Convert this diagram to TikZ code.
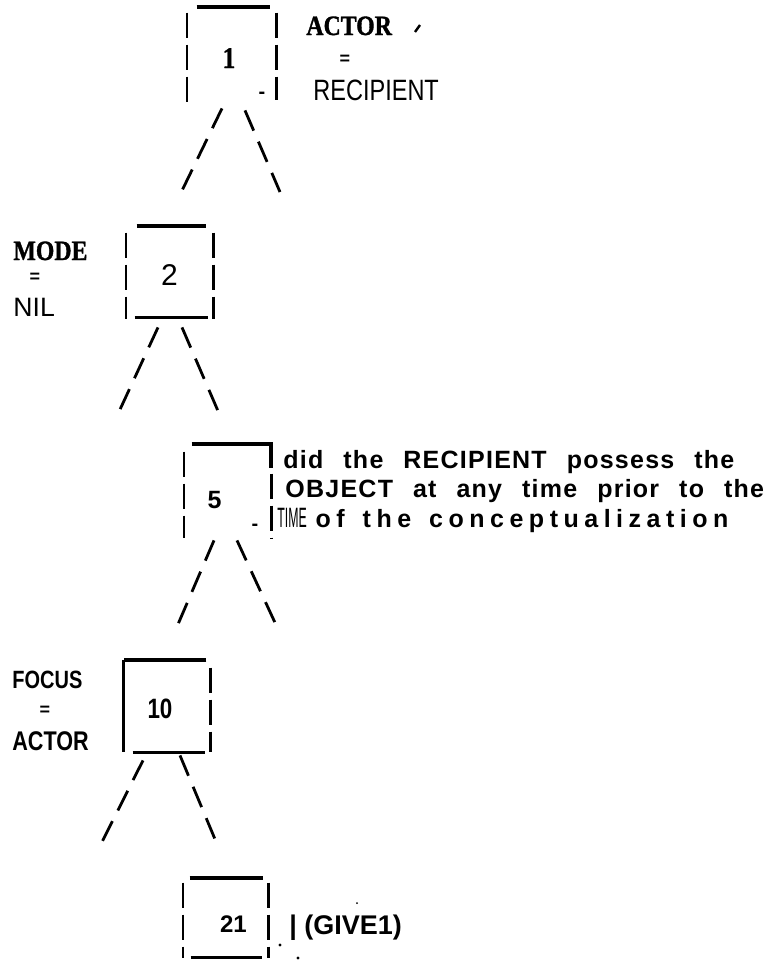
\documentclass[tikz,border=0pt]{standalone}
\usepackage{fontspec}
\setmainfont{Liberation Sans}
\newfontfamily\lpsans[FakeStretch=0.8]{Liberation Sans}
\newfontfamily\lpserif[FakeStretch=0.85,FakeBold=1.2]{Liberation Serif Bold}
\usetikzlibrary{positioning}
\tikzset{
  cell/.style={inner sep=0pt, minimum width=43.5pt, minimum height=47pt},
  num/.style={anchor=base, inner sep=0pt},
  lbl/.style={anchor=base west, inner sep=0pt},
  eqsign/.style={inner sep=0pt, font=\bfseries\fontsize{9}{9}\selectfont},
  hyph/.style={inner sep=0pt, font=\bfseries\fontsize{10}{10}\selectfont},
  sent/.style={anchor=base west, inner sep=0pt,
    font={\bfseries\fontsize{12.5}{14}\selectfont\addfontfeatures{LetterSpace=5}\spaceskip=10pt\relax}},
  topbar/.style={line width=2pt},
  footbar/.style={line width=1.5pt},
  sideline/.style={line width=1.1pt, dash pattern=on 12.5pt off 3.5pt},
  twig/.style={line width=1.4pt, dash pattern=on 11pt off 6pt},
  speck/.style={line width=1.2pt}
}

\begin{document}
\begin{tikzpicture}[x=0.5pt,y=-0.5pt]
      \useasboundingbox (0,0) rectangle (771,969);
      % the five boxes
      \node[cell, minimum width=44.5pt, minimum height=48pt] (b1) at (231.5,55) {};
      \node[cell, minimum height=46.5pt] (b2) at (169.5,272.5) {};
      \node[cell] (b5) at (227.5,491) {};
      \node[cell, minimum width=43pt, minimum height=46pt] (b10) at (167,706) {};
      \node[cell, minimum width=42.5pt, minimum height=40pt] (b21) at (225.5,918) {};
      \node[num, font=\lpserif\fontsize{15}{16}\selectfont] (n1) at (229,68) {1};
      \node[num, font=\fontsize{15}{17}\selectfont] (n2) at (169.5,285) {2};
      \node[num, font=\bfseries\fontsize{12.5}{15}\selectfont] (n5) at (214.5,508) {5};
      \node[num, font=\lpsans\bfseries\fontsize{14}{16}\selectfont] (n10) at (160,718) {10};
      \node[num, font=\bfseries\fontsize{12}{14}\selectfont] (n21) at (233.5,932) {21};
      \draw[topbar] ([xshift=5pt]b1.north west) -- ([xshift=-3pt]b1.north east);
      \draw[sideline] ([yshift=-3pt]b1.north west) -- (b1.south west);
      \draw[sideline] ([yshift=-3pt]b1.north east) -- ([yshift=1.5pt]b1.south east);
      \node[hyph] (h1) at (262,95) {-};
      \draw[topbar] ([xshift=5.5pt]b2.north west) -- ([xshift=-3.5pt]b2.north east);
      \draw[sideline] ([yshift=-3.5pt]b2.north west) -- (b2.south west);
      \draw[sideline] ([yshift=-3.5pt]b2.north east) -- (b2.south east);
      \draw[footbar] ([xshift=4.5pt,yshift=1pt]b2.south west) -- ([xshift=-2.5pt,yshift=1pt]b2.south east);
      \draw[topbar] ([xshift=4pt]b5.north west) -- (b5.north east) -- ([yshift=-12pt]b5.north east);
      \draw[sideline] ([yshift=-15pt]b5.north east) -- (b5.south east);
      \draw[sideline] ([yshift=-4pt]b5.north west) -- (b5.south west);
      \node[hyph] (h5) at (255,527) {-};
      \draw[topbar] ([xshift=-2pt]b10.north east) -- (b10.north west);
      \draw[line width=1.3pt] (b10.north west) -- (b10.south west);
      \draw[sideline] ([yshift=-4pt]b10.north east) -- (b10.south east);
      \draw[footbar] ([xshift=4.5pt]b10.south west) -- ([xshift=-2.5pt]b10.south east);
      \draw[topbar] ([xshift=3.5pt]b21.north west) -- ([xshift=-2.5pt]b21.north east);
      \draw[sideline] ([yshift=-2.5pt]b21.north west) -- (b21.south west);
      \draw[sideline] ([yshift=-2.5pt]b21.north east) -- (b21.south east);
      \draw[footbar] ([xshift=4pt,yshift=0.5pt]b21.south west) -- ([xshift=-3pt,yshift=0.5pt]b21.south east);
      % branches
      \coordinate (r1) at (280,192);
      \coordinate (l2) at (117,416);
      \coordinate (r5) at (277,627);
      \coordinate (l10) at (102,842);
      \draw[twig] ([xshift=-4.75pt,yshift=-2.5pt]b1.south) -- ([xshift=6.25pt,yshift=17.5pt]b2.north);
      \draw[twig] ([xshift=6.75pt,yshift=-3.5pt]b1.south) -- (r1);
      \draw[twig] ([xshift=-5.75pt,yshift=-4pt]b2.south) -- (l2);
      \draw[twig] ([xshift=6.25pt,yshift=-4pt]b2.south) -- ([xshift=-3.75pt,yshift=14pt]b5.north);
      \draw[twig] ([xshift=-6.75pt,yshift=-1pt]b5.south) -- ([xshift=5pt,yshift=16.5pt]b10.north);
      \draw[twig] ([xshift=4.75pt,yshift=-1pt]b5.south) -- (r5);
      \draw[twig] ([xshift=-12pt,yshift=-4pt]b10.south) -- (l10);
      \draw[twig] ([xshift=6.5pt,yshift=-1.5pt]b10.south) -- ([xshift=-4.75pt,yshift=18pt]b21.north);
      % labels
      \node[lbl, font=\lpserif\fontsize{14}{16}\selectfont] (actor) at (306,35) {ACTOR};
      \node[eqsign] (eq1) at (345,60) {=};
      \node[lbl, font=\lpsans\fontsize{14.7}{17}\selectfont] (recip) at (313,100) {RECIPIENT};
      \draw[speck] (415,32) -- (420,25);
      \node[lbl, font=\lpserif\fontsize{14}{16}\selectfont] (mode) at (13,260) {MODE};
      \node[eqsign] (eq2) at (35,278) {=};
      \node[lbl, font=\fontsize{13.3}{16}\selectfont] (nil) at (13,316) {NIL};
      \node[sent] (q1) at (283,468) {did the RECIPIENT possess the};
      \node[sent] (q2) at (285,497) {OBJECT at any time prior to the};
      \node[lbl] (tm) at (277,527) {\scalebox{0.55}[1]{\lpsans\fontsize{14}{16}\selectfont TIME}};
      \node[sent, font={\bfseries\fontsize{12.5}{14}\selectfont\addfontfeatures{LetterSpace=22}\spaceskip=9pt\relax},
        base right=4pt of tm] (q3) {of the conceptualization};
      \node[lbl, font=\lpsans\bfseries\fontsize{12.5}{15}\selectfont] (focus) at (12,688) {FOCUS};
      \node[eqsign] (eq3) at (45,711) {=};
      \node[lbl, font=\lpsans\bfseries\fontsize{13.5}{16}\selectfont] (actor2) at (12,750) {ACTOR};
      \node[lbl, font=\bfseries\fontsize{13.5}{16}\selectfont] (give) at (289,934) {| (GIVE1)};
      \fill (280,945) circle (0.8pt);
      \fill (298,958) circle (0.8pt);
      \fill (357,903) circle (0.5pt);
    \end{tikzpicture}
\end{document}
